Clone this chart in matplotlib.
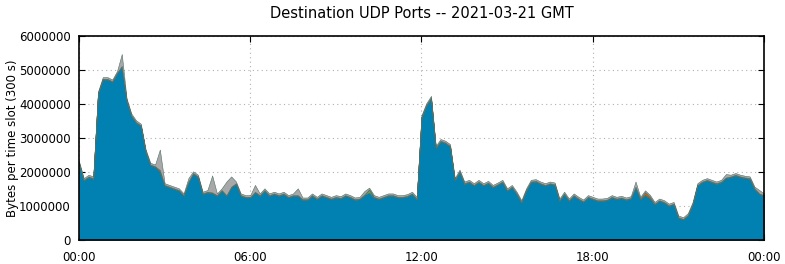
import numpy as np
import matplotlib
matplotlib.use("Agg")
import matplotlib.pyplot as plt

# 10-minute slots over the day, values in bytes per 300 s slot (millions)
hours = np.arange(145) / 6.0

main_udp = [
    2.25, 1.75, 1.85, 1.80, 4.30, 4.72, 4.72, 4.65, 4.90, 5.10,
    4.10, 3.65, 3.45, 3.35, 2.60, 2.20, 2.15, 2.00, 1.60, 1.55,
    1.50, 1.45, 1.30, 1.70, 1.95, 1.85, 1.35, 1.40, 1.38, 1.30,
    1.45, 1.30, 1.55, 1.65, 1.30, 1.25, 1.25, 1.40, 1.30, 1.45,
    1.30, 1.35, 1.30, 1.35, 1.25, 1.30, 1.30, 1.18, 1.18, 1.30,
    1.20, 1.30, 1.25, 1.20, 1.25, 1.22, 1.30, 1.25, 1.18, 1.20,
    1.32, 1.40, 1.25, 1.20, 1.25, 1.30, 1.30, 1.25, 1.25, 1.28,
    1.35, 1.20, 3.60, 3.95, 4.17, 2.70, 2.90, 2.85, 2.75, 1.75,
    2.00, 1.65, 1.70, 1.60, 1.70, 1.60, 1.67, 1.55, 1.62, 1.70,
    1.45, 1.55, 1.35, 1.10, 1.45, 1.70, 1.72, 1.65, 1.60, 1.65,
    1.62, 1.15, 1.35, 1.15, 1.30, 1.20, 1.12, 1.25, 1.20, 1.15,
    1.15, 1.17, 1.25, 1.20, 1.23, 1.18, 1.22, 1.55, 1.20, 1.32,
    1.22, 1.05, 1.15, 1.10, 1.00, 1.05, 0.65, 0.60, 0.72, 1.05,
    1.60, 1.70, 1.75, 1.70, 1.65, 1.70, 1.82, 1.85, 1.90, 1.85,
    1.82, 1.80, 1.50, 1.35, 1.30,
]
green_udp = [0.01] * 145
green_udp[61] = 0.08
orange_udp = [0.01] * 145
orange_udp[17] = 0.05
orange_udp[119] = 0.08
orange_udp[120] = 0.05
other_udp = [0.05] * 145
for k, v in {9: 0.35, 17: 0.6, 23: 0.1, 28: 0.5, 31: 0.4, 32: 0.3,
             37: 0.2, 46: 0.2, 60: 0.1, 117: 0.15, 136: 0.1, 143: 0.1}.items():
    other_udp[k] = v

series = [np.array(s) * 1e6 for s in (main_udp, green_udp, orange_udp, other_udp)]
colors = ["#0081b2", "#77aa33", "#d55e00", "#a8a8a8"]

fig = plt.figure(figsize=(7.85, 2.64), dpi=100)
ax = fig.add_axes([0.1006, 0.0909, 0.8726, 0.7727])
ax.stackplot(hours, *series, colors=colors, edgecolor="#50706a", linewidth=0.4)

ax.set_xlim(0, 24)
ax.set_ylim(0, 6e6)
ax.set_xticks([0, 6, 12, 18, 24])
ax.set_xticklabels(["00:00", "06:00", "12:00", "18:00", "00:00"])
ax.set_yticks(np.arange(0, 6000001, 1000000))
ax.set_yticklabels([str(v) for v in range(0, 6000001, 1000000)])
ax.tick_params(direction="in", top=True, right=True, length=4, labelsize=8.5)
ax.tick_params(axis="y", pad=6)
ax.tick_params(axis="x", pad=8)
ax.grid(True, color="#b0b0b0", linestyle=(0, (1, 3)), linewidth=0.8)
ax.set_axisbelow(True)
for sp in ax.spines.values():
    sp.set_linewidth(1.2)
ax.set_ylabel("Bytes per time slot (300 s)", fontsize=8.5, labelpad=0)
ax.set_title("Destination UDP Ports -- 2021-03-21 GMT", fontsize=10.5, pad=13)

fig.savefig("out.png", dpi=100)
